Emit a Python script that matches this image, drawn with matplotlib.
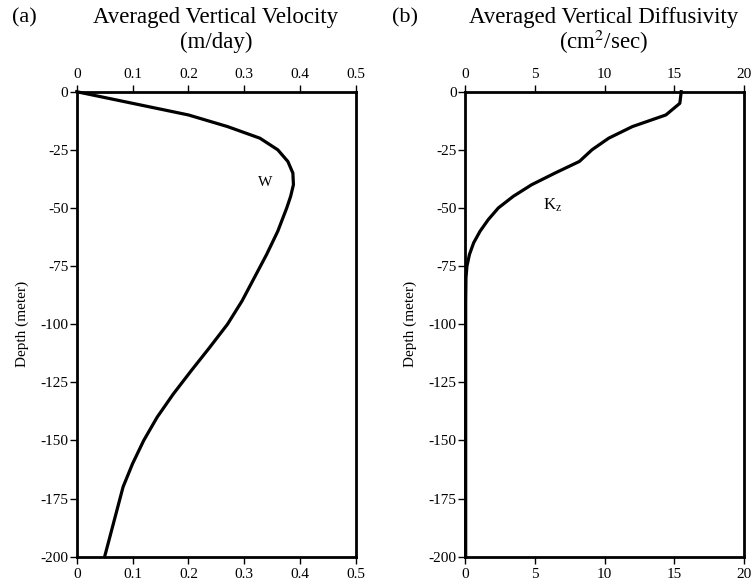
import matplotlib
matplotlib.use('Agg')
from matplotlib import pyplot as plt

plt.rcParams['font.family'] = ['Liberation Serif', 'DejaVu Serif']
plt.rcParams['mathtext.fontset'] = 'stix'
plt.rcParams['axes.unicode_minus'] = False

# panel (a): averaged vertical velocity (m/day)
w_depth = [0, -5, -10, -15, -20, -25, -30, -35, -40, -45, -50, -60, -70, -80,
           -90, -100, -110, -120, -130, -140, -150, -160, -170, -180, -190, -200]
w_vel = [0.0, 0.10, 0.20, 0.27, 0.328, 0.36, 0.378, 0.387, 0.388, 0.383, 0.376,
         0.36, 0.34, 0.318, 0.296, 0.27, 0.238, 0.205, 0.173, 0.144, 0.12,
         0.10, 0.083, 0.072, 0.061, 0.05]

# panel (b): averaged vertical diffusivity (cm^2/sec)
kz_depth = [0, -5, -10, -15, -20, -25, -30, -35, -40, -45, -50, -55, -60, -65,
            -70, -75, -80, -90, -100, -125, -150, -175, -200]
kz_val = [15.5, 15.4, 14.4, 12.0, 10.3, 9.1, 8.2, 6.45, 4.78, 3.46, 2.39, 1.67,
          1.08, 0.62, 0.32, 0.14, 0.07, 0.05, 0.05, 0.05, 0.05, 0.05, 0.05]

depth_ticks = [0, -25, -50, -75, -100, -125, -150, -175, -200]
w_ticks = [0, 0.1, 0.2, 0.3, 0.4, 0.5]
kz_ticks = [0, 5, 10, 15, 20]

W, H = 753, 583
fig = plt.figure(figsize=(W / 100, H / 100), dpi=100)


def style_axes(ax, xticks, xmax):
    ax.set_xlim(0, xmax)
    ax.set_ylim(-200, 0)
    ax.set_xticks(xticks)
    ax.set_xticklabels([('%g' % t) for t in xticks])
    ax.set_yticks(depth_ticks)
    ax.tick_params(axis='x', which='both', top=True, labeltop=True,
                   bottom=True, labelbottom=True, direction='out',
                   length=5, width=1, labelsize=11, pad=3)
    ax.tick_params(axis='y', right=False, direction='out', length=5,
                   width=1, labelsize=11, pad=1)
    for s in ax.spines.values():
        s.set_linewidth(2)
    ax.set_ylabel('Depth (meter)', fontsize=11, labelpad=8.5)


ax1 = fig.add_axes([76.7 / W, 1 - 556.7 / H, 279.3 / W, 465 / H])
ax1.plot(w_vel, w_depth, color='black', lw=2.3, clip_on=False)
style_axes(ax1, w_ticks, 0.5)
ax1.text(0.337, -39, 'W', fontsize=11, ha='center', va='center')

ax2 = fig.add_axes([465 / W, 1 - 556.7 / H, 279 / W, 465 / H])
ax2.plot(kz_val, kz_depth, color='black', lw=2.3, clip_on=False)
style_axes(ax2, kz_ticks, 20)
ax2.text(6.3, -49, r'K$_{\rm z}$', fontsize=12, ha='center', va='center')

# titles
fig.text(12 / W, 1 - 18 / H, '(a)', fontsize=16, ha='left', va='center')
fig.text(216 / W, 1 - 18 / H, 'Averaged Vertical Velocity', fontsize=16.5,
         ha='center', va='center')
fig.text(216 / W, 1 - 42 / H, '(m/day)', fontsize=16.5, ha='center',
         va='center')
fig.text(392 / W, 1 - 18 / H, '(b)', fontsize=16, ha='left', va='center')
fig.text(604 / W, 1 - 18 / H, 'Averaged Vertical Diffusivity', fontsize=16.5,
         ha='center', va='center')
fig.text(604 / W, 1 - 42 / H, r'(cm$^{2}$/sec)', fontsize=16.5, ha='center',
         va='center')

fig.savefig('out.png', dpi=100)
